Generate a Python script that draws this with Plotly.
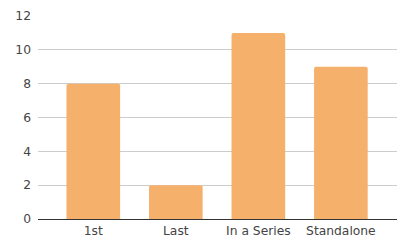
import plotly.graph_objects as go

categories = ["1st", "Last", "In a Series", "Standalone"]
values = [8, 2, 11, 9]
y_ticks = [0, 2, 4, 6, 8, 10, 12]

fig = go.Figure(go.Bar(x=list(range(len(categories))), y=values, marker_color="#F5B16B",
                       marker_line_width=0, width=0.65))
fig.update_layout(
    width=406, height=247,
    margin=dict(l=38, r=9, t=13, b=27),
    plot_bgcolor="white", paper_bgcolor="white",
    font=dict(family="DejaVu Sans", size=12.3, color="#444"),
    barcornerradius=2,
    showlegend=False,
)
fig.update_xaxes(range=[-0.67, 3.68], tickvals=list(range(len(categories))), ticktext=categories,
                 showgrid=False, showline=True, linecolor="#333", linewidth=1, ticks="", zeroline=False)
fig.update_yaxes(range=[0, 12], tickvals=y_ticks, showgrid=True, gridcolor="#ccc", gridwidth=1,
                 zeroline=False, showline=False, ticks="", ticklabelstandoff=6)
fig.write_html("out.html")
